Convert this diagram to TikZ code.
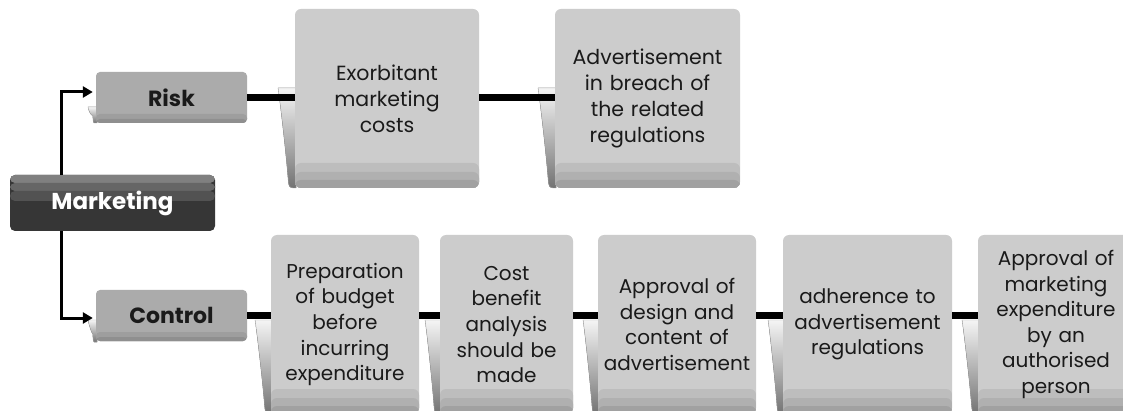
\documentclass[tikz,border=0pt]{standalone}
\usepackage{fontspec}
\setmainfont{Poppins}
\usetikzlibrary{calc,arrows.meta}
\definecolor{boxgray}{HTML}{CCCCCC}
\definecolor{lblgray}{HTML}{ABABAB}
\definecolor{txt}{HTML}{1A1A1A}
\tikzset{
  bands/.style={path picture={
    \fill[black!26] ($(path picture bounding box.south west)+(0pt,25pt)$) rectangle (path picture bounding box.south east);
    \fill[black!31] ($(path picture bounding box.south west)+(0pt,16pt)$) rectangle (path picture bounding box.south east);
    \fill[black!37] ($(path picture bounding box.south west)+(0pt,8pt)$) rectangle (path picture bounding box.south east);
  }},
  bigbox/.style={bands, rounded corners=6pt, fill=boxgray, inner sep=0pt, align=center,
    minimum height=179pt, text=txt, font=\fontsize{20}{25.6}\selectfont},
  riskfont/.style={font=\fontsize{20.5}{26}\selectfont},
  lblbands/.style={path picture={
    \fill[black!38] ($(path picture bounding box.south west)+(0pt,9pt)$) rectangle (path picture bounding box.south east);
    \fill[black!44] ($(path picture bounding box.south west)+(0pt,4pt)$) rectangle (path picture bounding box.south east);
  }},
  lblbox/.style={lblbands, rounded corners=4pt, fill=lblgray, inner sep=0pt,
    minimum width=151pt, minimum height=51pt, text=txt, font=\fontsize{22}{26}\selectfont\bfseries},
  mktbands/.style={path picture={
    \fill[black!50] (path picture bounding box.north west) rectangle ($(path picture bounding box.north east)+(0pt,-8pt)$);
    \fill[black!60] ($(path picture bounding box.north west)+(0pt,-8pt)$) rectangle ($(path picture bounding box.north east)+(0pt,-16pt)$);
    \fill[black!68] ($(path picture bounding box.north west)+(0pt,-16pt)$) rectangle ($(path picture bounding box.north east)+(0pt,-26pt)$);
  }},
  mktbox/.style={mktbands, rounded corners=5pt, fill=black!79, inner sep=0pt,
    minimum width=205pt, minimum height=56pt, text=white, font=\fontsize{23}{26}\selectfont\bfseries},
  conn/.style={line width=7.5pt, black},
  arr/.style={line width=3pt, black, -{Triangle[length=10pt,width=11pt]}, shorten >=3pt},
  pics/curl/.style 2 args={code={
    \fill[top color=black!4, bottom color=black!55, draw=black!35, line width=0.4pt]
      (1,0) -- (-#1,0) .. controls ({-#1+1},5) and ({-#1*0.55},{#2*0.6}) .. ({-#1*0.4},{#2-8})
      .. controls ({-#1*0.35},{#2-1}) .. (-2,#2) -- (1,#2) -- cycle;
  }}
}
\begin{document}
\begin{tikzpicture}[x=1pt,y=-1pt]
\useasboundingbox[fill=white] (0,0) rectangle (1123,411);
% curls
\pic at (96,107) {curl={8}{16}};
\pic at (96,320) {curl={8}{22}};
\pic at (295,88) {curl={17}{100}};
\pic at (555,88) {curl={17}{100}};
\pic at (271,320) {curl={16}{94}};
\pic at (440,320) {curl={15}{94}};
\pic at (598,320) {curl={15}{94}};
\pic at (783,320) {curl={15}{94}};
\pic at (978,320) {curl={16}{94}};
% label boxes
\node[mktbox] (mkt) at (112.5,203) {Marketing};
\node[lblbox] (risk) at (171.5,97.5) {Risk};
\node[lblbox] (ctl) at (171.5,315.5) {Control};
% risk row
\node[bigbox, riskfont, text width=184pt] (exo) at (387,98.5) {Exorbitant\\marketing\\costs};
\node[bigbox, riskfont, text width=185pt] (adv) at (647.5,98.5) {Advertisement\\in breach of\\the related\\regulations};
% control row
\node[bigbox, text width=148pt] (prep) at (345,324.5) {Preparation\\of budget\\before\\incurring\\expenditure};
\node[bigbox, text width=133pt] (cost) at (506.5,324.5) {Cost\\benefit\\analysis\\should be\\made};
\node[bigbox, text width=158pt] (appr) at (677,324.5) {Approval of\\design and\\content of\\advertisement};
\node[bigbox, text width=169pt] (adh) at (867.5,324.5) {adherence to\\advertisement\\regulations};
\node[bigbox, text width=156pt] (last) at (1056,324.5) {Approval of\\marketing\\expenditure\\by an\\authorised\\person};
% connectors
\draw[conn] (risk.east) -- (risk.east -| exo.west);
\draw[conn] (exo.east |- risk.east) -- (adv.west |- risk.east);
\draw[conn] (ctl.east) -- (ctl.east -| prep.west);
\draw[conn] (prep.east |- ctl.east) -- (cost.west |- ctl.east);
\draw[conn] (cost.east |- ctl.east) -- (appr.west |- ctl.east);
\draw[conn] (appr.east |- ctl.east) -- (adh.west |- ctl.east);
\draw[conn] (adh.east |- ctl.east) -- (last.west |- ctl.east);
% arrows
\draw[arr] ($(mkt.north west)+(52pt,0pt)$) |- ($(risk.west)+(0pt,5.5pt)$);
\draw[arr] ($(mkt.south west)+(52pt,0pt)$) |- ($(ctl.west)+(0pt,-2.5pt)$);
\end{tikzpicture}
\end{document}
